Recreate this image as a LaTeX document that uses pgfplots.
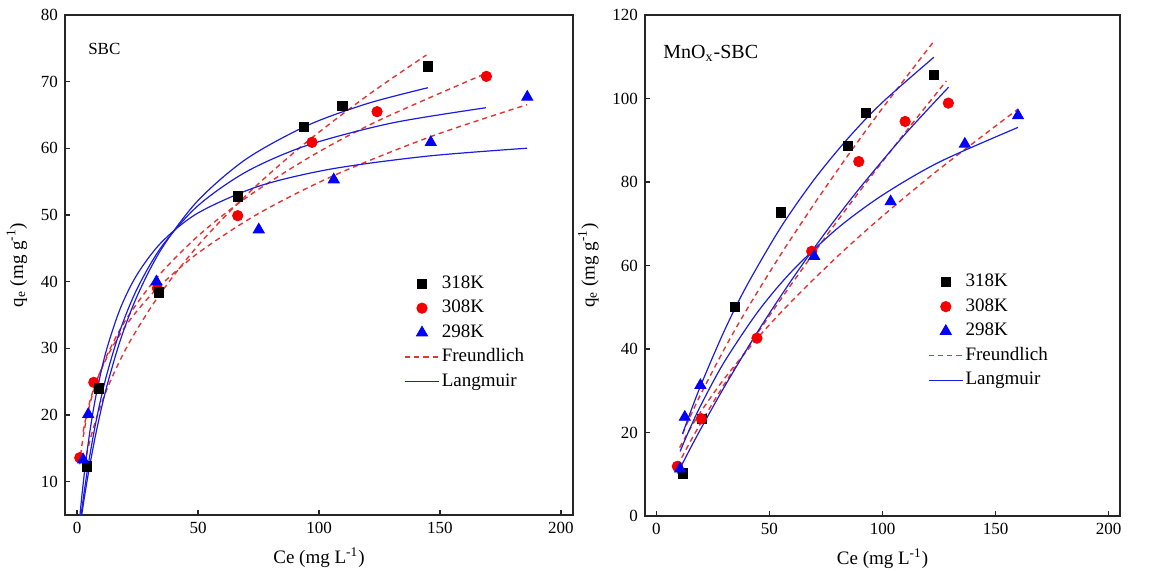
\documentclass[border=0pt]{standalone}
\usepackage{fontspec}
\setmainfont{Liberation Serif}
\usepackage{pgfplots}
\pgfplotsset{compat=1.18}

\definecolor{fitred}{RGB}{228,52,52}
\definecolor{fitblue}{RGB}{28,28,222}
\definecolor{mkblue}{RGB}{0,0,250}
\definecolor{mkred}{RGB}{245,0,0}

\pgfplotsset{
  iso/.style={
    scale only axis,
    xmin=-5, xmax=205,
    xtick={0,50,...,200},
    tick pos=left, tick align=inside,
    major tick length=2.5pt,
    axis line style={black!85, line width=0.75pt},
    every tick/.style={black!85, line width=0.6pt},
    tick label style={font=\fontsize{8.5}{10}\selectfont},
    /pgf/number format/assume math mode=true,
    label style={font=\fontsize{9.5}{11}\selectfont},
    xlabel={Ce (mg L\textsuperscript{-1})},
    ylabel={q\textsubscript{e} (mg g\textsuperscript{-1})},
    legend style={draw=none, fill=none, inner sep=0pt, anchor=north west,
      font=\fontsize{9.5}{11}\selectfont, row sep=1pt,
      nodes={inner sep=1pt, text height=7pt, text depth=2.25pt}},
    legend cell align=left,
  },
  p318/.style={only marks, mark=square*, mark size=2.3pt, draw=black, fill=black, forget plot},
  p308/.style={only marks, mark=*, mark size=2.6pt, draw=mkred, fill=mkred, forget plot},
  p298/.style={only marks, mark=triangle*, mark size=3.2pt, draw=mkblue, fill=mkblue, forget plot},
  frd/.style={fitred, line width=0.7pt, dash pattern=on 2.6pt off 2pt, smooth, no marks, forget plot},
  lng/.style={fitblue, line width=0.6pt, smooth, no marks, forget plot},
}

\begin{document}
\begin{tikzpicture}

% ---------------- SBC ----------------
\begin{axis}[iso,
  at={(32.5pt,27.5pt)}, anchor=south west,
  width=254pt, height=250pt,
  ymin=5, ymax=80, ytick={10,20,...,80},
  legend style={at={(rel axis cs:0.667,0.486)}},
]
\addlegendimage{only marks, mark=square*, mark size=2.3pt, draw=black, fill=black}
\addlegendentry{318K}
\addlegendimage{only marks, mark=*, mark size=2.6pt, draw=mkred, fill=mkred}
\addlegendentry{308K}
\addlegendimage{only marks, mark=triangle*, mark size=3.2pt, draw=mkblue, fill=mkblue}
\addlegendentry{298K}
\addlegendimage{fitred, line width=0.7pt, dash pattern=on 2.6pt off 2pt}
\addlegendentry{Freundlich}
\addlegendimage{fitblue, line width=0.6pt}
\addlegendentry{Langmuir}

% Freundlich fits
\addplot[frd] coordinates {(3.9,14.04) (6,17.12) (10,21.66) (15,26.10) (22,31.13) (33.8,37.9) (50,45.43) (70,53.01) (93.7,60.60) (120,67.92) (144.4,74.0)};
\addplot[frd] coordinates {(1.1,12.61) (2,15.49) (4,19.66) (7,23.83) (12,28.68) (20,34.19) (33,40.62) (50,46.86) (70,52.61) (97,58.87) (125,64.23) (169,71.25)};
\addplot[frd] coordinates {(2.5,17.50) (4.6,21.14) (8,25.09) (14,29.84) (22,34.33) (33,38.94) (50,44.29) (75,50.22) (106,55.90) (146,61.74) (186,66.55)};

% Langmuir fits
\addplot[lng] coordinates {(1.8,4.74) (3,7.61) (5,11.96) (8,17.62) (12,23.91) (18,31.36) (25,37.99) (35,44.98) (50,52.18) (70,58.42) (95,63.40) (120,66.72) (145,69.09)};
\addplot[lng] coordinates {(1.5,4.59) (3,8.65) (5,13.39) (8,19.35) (12,25.71) (18,32.93) (25,39.08) (35,45.28) (50,51.41) (70,56.50) (95,60.44) (130,63.79) (169,66.09)};
\addplot[lng] coordinates {(1.1,4.64) (2,7.97) (3.5,12.77) (5.5,18.03) (8,23.27) (12,29.58) (18,36.11) (25,41.19) (35,45.95) (50,50.31) (75,54.31) (105,56.90) (145,58.84) (186,60.02)};

% measured uptake
\addplot[p308] coordinates {(1.1,13.6) (6.9,24.9) (33.2,39.0) (66.4,49.9) (97.1,60.9) (124.0,65.5) (169.2,70.8)};
\addplot[p318] coordinates {(3.9,12.3) (9.1,24.0) (33.8,38.4) (66.5,52.8) (93.7,63.2) (109.7,66.4) (145.0,72.3)};
\addplot[p298] coordinates {(2.5,13.3) (4.6,20.1) (32.8,40.0) (75.1,47.8) (106.1,55.3) (146.2,60.9) (186.1,67.7)};

\node[anchor=west, font=\fontsize{8.5}{10}\selectfont, inner sep=0pt] at (rel axis cs:0.045,0.932) {SBC};
\end{axis}

% ---------------- MnOx-SBC ----------------
\begin{axis}[iso,
  at={(322.5pt,27pt)}, anchor=south west,
  width=237.5pt, height=250.5pt,
  ymin=0, ymax=120, ytick={0,20,...,120},
  legend style={at={(rel axis cs:0.595,0.490)}},
]
\addlegendimage{only marks, mark=square*, mark size=2.3pt, draw=black, fill=black}
\addlegendentry{318K}
\addlegendimage{only marks, mark=*, mark size=2.6pt, draw=mkred, fill=mkred}
\addlegendentry{308K}
\addlegendimage{only marks, mark=triangle*, mark size=3.2pt, draw=mkblue, fill=mkblue}
\addlegendentry{298K}
\addlegendimage{fitred, line width=0.7pt, dash pattern=on 2.6pt off 2pt}
\addlegendentry{Freundlich}
\addlegendimage{fitblue, line width=0.6pt}
\addlegendentry{Langmuir}

% Freundlich fits
\addplot[frd] coordinates {(11.6,19.71) (15,23.86) (20,29.55) (30,39.93) (40,49.46) (55,62.63) (70,74.90) (85,86.58) (100,97.70) (122.7,113.7)};
\addplot[frd] coordinates {(9.3,11.99) (15,17.79) (20,22.55) (30,31.49) (45,44.00) (60,55.73) (75,66.97) (90,77.87) (110,91.83) (128.2,104.2)};
\addplot[frd] coordinates {(10.3,16.40) (15,20.94) (20,25.24) (30,32.85) (45,42.77) (60,51.53) (80,62.13) (100,71.83) (125,83.04) (159.9,97.47)};

% Langmuir fits
\addplot[lng] coordinates {(11.6,19.66) (15,24.74) (20,31.75) (30,44.29) (40,55.19) (55,69.11) (70,80.75) (85,90.62) (100,99.10) (122.7,109.88)};
\addplot[lng] coordinates {(9.3,10.19) (15,16.15) (20,21.20) (30,30.86) (45,44.32) (60,56.68) (75,68.07) (90,78.60) (110,91.47) (129.2,102.70)};
\addplot[lng] coordinates {(10.5,15.48) (15,21.14) (20,26.87) (30,36.86) (45,49.00) (60,58.67) (80,68.86) (100,76.86) (125,84.75) (159.9,93.08)};

% measured uptake
\addplot[p318] coordinates {(11.6,10.2) (20.0,23.2) (34.6,50.0) (55.0,72.7) (84.6,88.7) (92.5,96.6) (122.7,105.7)};
\addplot[p308] coordinates {(9.3,11.9) (19.9,23.3) (44.5,42.6) (68.7,63.4) (89.5,84.9) (110.0,94.5) (129.1,98.9)};
\addplot[p298] coordinates {(10.5,11.3) (12.6,23.7) (19.5,31.3) (69.8,62.2) (103.6,75.3) (136.4,89.1) (159.9,95.9)};

\node[anchor=west, font=\fontsize{10}{12}\selectfont, inner sep=0pt] at (rel axis cs:0.038,0.924) {MnO\textsubscript{x}-SBC};
\end{axis}

\pgfresetboundingbox
\path[use as bounding box] (0,0) rectangle (580.5pt,285pt);
\end{tikzpicture}
\end{document}
